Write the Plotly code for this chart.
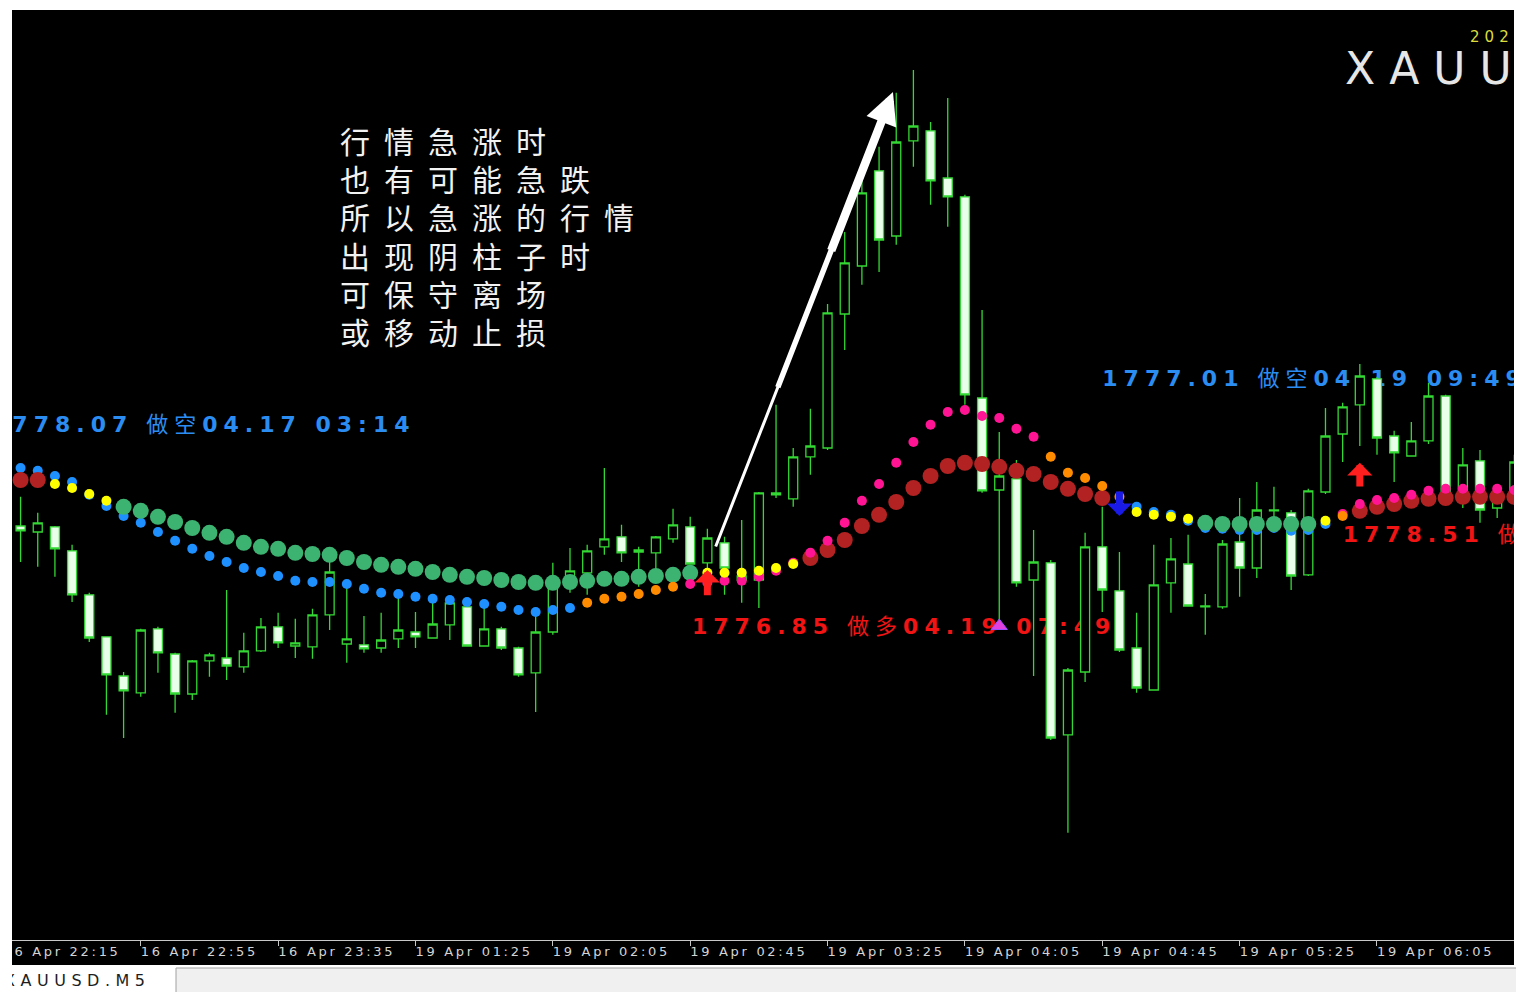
import plotly.graph_objects as go

# ---------------- data ----------------
bar_index = list(range(88))

opens = [1777.85, 1777.70, 1777.83, 1777.23, 1776.13, 1775.08, 1774.10, 1773.68, 1775.28, 1774.65,
         1773.65, 1774.48, 1774.55, 1774.33, 1774.73, 1775.33, 1774.85, 1774.83, 1775.63, 1774.90,
         1774.88, 1774.80, 1775.03, 1775.20, 1775.05, 1775.38, 1775.83, 1774.85, 1775.28, 1774.80,
         1774.18, 1775.20, 1776.53, 1776.68, 1777.33, 1777.58, 1777.20, 1777.18, 1777.53, 1777.83,
         1776.93, 1777.43, 1776.50, 1776.50, 1778.63, 1778.53, 1779.58, 1779.80, 1783.15, 1784.35,
         1786.73, 1785.10, 1787.48, 1787.73, 1786.55, 1786.08, 1781.05, 1778.75, 1779.03, 1776.50,
         1776.93, 1772.63, 1774.20, 1777.33, 1776.23, 1774.80, 1773.75, 1776.43, 1776.90, 1775.83,
         1775.83, 1777.45, 1776.80, 1778.23, 1778.18, 1776.63, 1778.70, 1780.15, 1780.88, 1781.53,
         1780.10, 1779.60, 1779.98, 1781.10, 1778.65, 1779.48, 1778.30, 1778.50]
highs = [1778.58, 1778.18, 1777.85, 1777.38, 1776.18, 1775.08, 1774.20, 1775.28, 1775.33, 1774.68,
         1774.50, 1774.68, 1776.25, 1775.18, 1775.55, 1775.68, 1775.53, 1775.78, 1776.95, 1776.30,
         1775.60, 1775.68, 1776.05, 1775.70, 1776.00, 1776.05, 1775.93, 1775.93, 1775.33, 1774.83,
         1775.63, 1776.93, 1777.30, 1777.38, 1779.30, 1777.88, 1777.33, 1777.60, 1778.28, 1778.08,
         1777.78, 1777.58, 1778.00, 1778.70, 1780.88, 1779.80, 1780.78, 1783.40, 1785.20, 1786.68,
         1787.33, 1788.68, 1789.25, 1787.95, 1788.55, 1786.13, 1783.25, 1780.20, 1779.50, 1777.75,
         1777.00, 1774.30, 1777.68, 1778.33, 1777.20, 1775.68, 1777.38, 1777.55, 1777.63, 1776.15,
         1777.50, 1778.55, 1778.95, 1778.83, 1778.25, 1778.78, 1780.80, 1780.93, 1781.90, 1781.58,
         1780.23, 1780.45, 1781.43, 1781.13, 1779.80, 1779.75, 1778.73, 1779.63]
lows = [1776.95, 1776.83, 1776.58, 1775.95, 1774.95, 1773.13, 1772.55, 1773.58, 1774.18, 1773.18,
        1773.50, 1774.08, 1774.00, 1774.18, 1774.70, 1774.80, 1774.55, 1774.53, 1775.25, 1774.43,
        1774.68, 1774.68, 1774.80, 1774.80, 1775.03, 1775.00, 1774.83, 1774.83, 1774.75, 1774.08,
        1773.20, 1775.13, 1776.18, 1776.13, 1777.13, 1776.95, 1776.33, 1776.50, 1777.43, 1776.88,
        1776.80, 1776.13, 1775.93, 1775.80, 1778.55, 1778.33, 1779.13, 1779.75, 1782.25, 1783.88,
        1784.20, 1784.88, 1786.83, 1785.88, 1785.33, 1780.88, 1778.68, 1775.50, 1776.33, 1774.10,
        1772.50, 1770.18, 1773.95, 1775.70, 1774.70, 1773.68, 1773.73, 1775.68, 1775.83, 1775.13,
        1775.78, 1776.08, 1776.55, 1777.80, 1776.25, 1776.60, 1778.65, 1779.45, 1779.85, 1779.63,
        1778.95, 1779.58, 1779.90, 1778.60, 1778.30, 1777.93, 1778.05, 1778.38]
closes = [1777.73, 1777.93, 1777.28, 1776.13, 1775.05, 1774.13, 1773.73, 1775.25, 1774.68, 1773.65,
          1774.48, 1774.63, 1774.35, 1774.73, 1775.33, 1774.93, 1774.93, 1775.63, 1776.70, 1775.03,
          1774.78, 1775.00, 1775.25, 1775.08, 1775.40, 1775.93, 1774.85, 1775.28, 1774.80, 1774.13,
          1775.20, 1776.33, 1776.73, 1777.23, 1777.53, 1777.18, 1777.25, 1777.58, 1777.88, 1776.90,
          1777.55, 1776.80, 1776.60, 1778.68, 1778.68, 1779.58, 1779.85, 1783.18, 1784.43, 1786.18,
          1785.00, 1787.45, 1787.85, 1786.48, 1786.08, 1781.13, 1778.73, 1779.10, 1776.43, 1776.95,
          1772.55, 1774.25, 1777.33, 1776.25, 1774.75, 1773.80, 1776.38, 1777.03, 1775.85, 1775.85,
          1777.40, 1776.80, 1778.25, 1778.25, 1776.60, 1778.73, 1780.10, 1780.83, 1781.60, 1780.05,
          1779.68, 1779.98, 1781.10, 1778.65, 1779.38, 1778.25, 1778.65, 1779.45]

# trend line A (large dots) and its colour state per bar
dots_a = [1779.00, 1779.00, 1778.90, 1778.80, 1778.65, 1778.48, 1778.33, 1778.23, 1778.08, 1777.95,
          1777.80, 1777.68, 1777.58, 1777.43, 1777.33, 1777.28, 1777.18, 1777.15, 1777.13, 1777.05,
          1776.95, 1776.88, 1776.83, 1776.78, 1776.70, 1776.63, 1776.58, 1776.55, 1776.50, 1776.45,
          1776.43, 1776.43, 1776.45, 1776.48, 1776.53, 1776.53, 1776.58, 1776.60, 1776.63, 1776.68,
          1776.68, 1776.68, 1776.68, 1776.73, 1776.80, 1776.90, 1777.05, 1777.25, 1777.50, 1777.85,
          1778.13, 1778.45, 1778.80, 1779.10, 1779.35, 1779.43, 1779.40, 1779.33, 1779.23, 1779.15,
          1778.95, 1778.78, 1778.65, 1778.55, 1778.33, 1778.20, 1778.13, 1778.08, 1778.03, 1777.93,
          1777.90, 1777.90, 1777.90, 1777.90, 1777.90, 1777.90, 1777.98, 1778.10, 1778.23, 1778.33,
          1778.40, 1778.48, 1778.53, 1778.55, 1778.58, 1778.58, 1778.58, 1778.58]
dots_a_state = list("RRYYYYGGGG" "GGGGGGGGGG" "GGGGGGGGGG" "GGGGGGGGGG" "YYYYYYRRRR"
                    "RRRRRRRRRR" "RRRRYYYYYG" "GGGGGGYORR" "RRRRRRRR")

# trend line B (small dots) and its colour state per bar
dots_b = [1779.30, 1779.23, 1779.10, 1778.95, 1778.63, 1778.35, 1778.10, 1777.93, 1777.70, 1777.48,
          1777.28, 1777.10, 1776.95, 1776.80, 1776.70, 1776.60, 1776.48, 1776.45, 1776.45, 1776.40,
          1776.28, 1776.18, 1776.15, 1776.08, 1776.03, 1776.00, 1775.95, 1775.90, 1775.83, 1775.75,
          1775.70, 1775.75, 1775.80, 1775.93, 1776.03, 1776.08, 1776.15, 1776.25, 1776.33, 1776.40,
          1776.43, 1776.48, 1776.48, 1776.58, 1776.73, 1776.93, 1777.18, 1777.48, 1777.93, 1778.48,
          1778.90, 1779.43, 1779.95, 1780.38, 1780.70, 1780.75, 1780.60, 1780.55, 1780.28, 1780.08,
          1779.58, 1779.18, 1779.05, 1778.85, 1778.58, 1778.33, 1778.20, 1778.13, 1777.98, 1777.80,
          1777.78, 1777.75, 1777.75, 1777.80, 1777.73, 1777.75, 1777.90, 1778.15, 1778.40, 1778.50,
          1778.55, 1778.63, 1778.73, 1778.78, 1778.78, 1778.78, 1778.78, 1778.75]
dots_b_state = list("BBBBBBBBBB" "BBBBBBBBBB" "BBBBBBBBBB" "BBBOOOOOOP" "PPPPPPPPPP"
                    "PPPPPPPPPP" "OOOOOBBBBB" "BBBBBBBPPP" "PPPPPPPP")

tick_index = [-1, 7, 15, 23, 31, 39, 47, 55, 63, 71, 79, 87]
tick_labels = ["16 Apr 22:15", "16 Apr 22:55", "16 Apr 23:35", "19 Apr 01:25", "19 Apr 02:05",
               "19 Apr 02:45", "19 Apr 03:25", "19 Apr 04:05", "19 Apr 04:45", "19 Apr 05:25",
               "19 Apr 06:05", "19 Apr 06:45"]

signal_index = [40, 78, 64]
signal_tip = [1776.75, 1779.43, 1778.10]
signal_base = [1776.08, 1778.80, 1778.75]
signal_color = ["#ff1f1f", "#ff1f1f", "#1a1ae6"]

trigger_index = [57]
trigger_price = [1775.35]

label_index = [-1.72, 63.0, 39.1, 77.0]
label_price = [1780.35, 1781.48, 1775.30, 1777.58]
label_value = ["1778.07", "1777.01", "1776.85", "1778.51"]
label_side = ["做空", "做空", "做多", "做多"]
label_time = ["04.17 03:14", "04.19 09:49", "04.19 07:49", "04.19 10:19"]
label_color = ["#2b8df2", "#2b8df2", "#f01414", "#f01414"]

note_lines = ["行情急涨时", "也有可能急跌", "所以急涨的行情", "出现阴柱子时", "可保守离场", "或移动止损"]
note_index = 18.49
note_line_price = [1787.50, 1786.55, 1785.60, 1784.63, 1783.68, 1782.73]

# arrow drawn by hand on the screenshot: (index, price) of tail, intermediate points and tip
hand_arrow_tail = (40.45, 1777.30)
hand_arrow_mid1 = (44.07, 1781.28)
hand_arrow_mid2 = (47.18, 1784.70)
hand_arrow_tip = (50.81, 1788.70)

symbol_title = "XAUUSD"
symbol_title_pos = (77.14, 1789.18)
clock_text = "2021.04.19 06:48"
clock_pos = (84.42, 1790.05)
tab_label = "XAUUSD.M5"
tab_label_pos = -0.96

# ---------------- styles ----------------
DOT_COLORS = {"G": "#3cb371", "R": "#b22222", "B": "#1e90ff", "P": "#ff1493", "O": "#ff8c00", "Y": "#ffff00"}
DOT_SIZES = {"G": 16, "R": 16, "B": 10, "P": 10, "O": 10, "Y": 10}
DOT_ORDER = ["B", "G", "R", "P", "O", "Y"]
CANDLE_GREEN = "#34d834"
Y_RANGE = [1767.50, 1790.75]
X_RANGE = [-0.5, 86.98]


def spaced(s, px):
    return "<span style='letter-spacing:%spx'>%s</span>" % (px, s)


fig = go.Figure()

# signal labels (base layer, under candles)
label_texts = [spaced("<b>%s</b> %s<b>%s</b>" % (v, s, t), 6)
               for v, s, t in zip(label_value, label_side, label_time)]
fig.add_trace(go.Scatter(
    x=label_index, y=label_price, text=label_texts, mode="text",
    textposition="middle right", cliponaxis=True, hoverinfo="skip",
    textfont=dict(family="DejaVu Sans, Noto Sans CJK SC", size=22, color=label_color),
    xaxis="x", yaxis="y"))

fig.add_trace(go.Scatter(
    x=[symbol_title_pos[0]], y=[symbol_title_pos[1]], text=[spaced(symbol_title, 14)],
    mode="text", textposition="middle right", cliponaxis=True, hoverinfo="skip",
    textfont=dict(family="DejaVu Sans", size=44, color="#e6e6e6"),
    xaxis="x", yaxis="y"))
fig.add_trace(go.Scatter(
    x=[clock_pos[0]], y=[clock_pos[1]], text=[spaced(clock_text, 5)],
    mode="text", textposition="middle right", cliponaxis=True, hoverinfo="skip",
    textfont=dict(family="DejaVu Sans", size=15, color="#dcdc3c"),
    xaxis="x", yaxis="y"))

# candles (overlay layer)
fig.add_trace(go.Candlestick(
    x=bar_index, open=opens, high=highs, low=lows, close=closes,
    increasing=dict(line=dict(color=CANDLE_GREEN, width=1.3), fillcolor="black"),
    decreasing=dict(line=dict(color=CANDLE_GREEN, width=1.3), fillcolor="#eaffea"),
    whiskerwidth=0, hoverinfo="skip", xaxis="x", yaxis="y2"))

# indicator dots
for code in DOT_ORDER:
    xs, ys = [], []
    for i, (va, sa, vb, sb) in enumerate(zip(dots_a, dots_a_state, dots_b, dots_b_state)):
        if sa == code:
            xs.append(bar_index[i]); ys.append(va)
        if sb == code:
            xs.append(bar_index[i]); ys.append(vb)
    fig.add_trace(go.Scatter(
        x=xs, y=ys, mode="markers", hoverinfo="skip", cliponaxis=True,
        marker=dict(color=DOT_COLORS[code], size=DOT_SIZES[code], line=dict(width=0)),
        xaxis="x", yaxis="y2"))

fig.add_trace(go.Scatter(
    x=trigger_index, y=trigger_price, mode="markers", hoverinfo="skip",
    marker=dict(symbol="triangle-up", size=14, color="#e040e0", line=dict(color="#9a4dff", width=1)),
    xaxis="x", yaxis="y2"))

# time axis labels
fig.add_trace(go.Scatter(
    x=tick_index, y=[0.5] * len(tick_index), text=[spaced(t, 2.7) for t in tick_labels],
    mode="text", textposition="middle right", cliponaxis=True, hoverinfo="skip",
    textfont=dict(family="DejaVu Sans", size=13, color="#d4d4d4"),
    xaxis="x", yaxis="y3"))

# bottom tab label
fig.add_trace(go.Scatter(
    x=[tab_label_pos], y=[0.38], text=[spaced(tab_label, 5.5)],
    mode="text", textposition="middle right", cliponaxis=True, hoverinfo="skip",
    textfont=dict(family="DejaVu Sans", size=16, color="#1e1e1e"),
    xaxis="x", yaxis="y4"))

annotations = []
for idx, tip, base, col in zip(signal_index, signal_tip, signal_base, signal_color):
    annotations.append(dict(x=idx, y=tip, ax=idx, ay=base, xref="x", yref="y", axref="x", ayref="y",
                            text="", showarrow=True, arrowhead=1, arrowwidth=7, arrowsize=0.6,
                            arrowcolor=col))

# hand-drawn white arrow (tapered using overlapping strokes)
for start, w, head, size, stand in [(hand_arrow_tail, 3, 0, 1, 24),
                                     (hand_arrow_mid1, 5.5, 0, 1, 24),
                                     (hand_arrow_mid2, 8.5, 2, 0.75, 0)]:
    annotations.append(dict(x=hand_arrow_tip[0], y=hand_arrow_tip[1], ax=start[0], ay=start[1],
                            xref="x", yref="y", axref="x", ayref="y", text="", showarrow=True,
                            arrowhead=head, arrowwidth=w, arrowsize=size, standoff=stand,
                            arrowcolor="white"))

for line, price in zip(note_lines, note_line_price):
    annotations.append(dict(
        x=note_index, y=price, xref="x", yref="y", xanchor="left", yanchor="middle",
        align="left", showarrow=False, text=spaced(line, 14),
        font=dict(family="Noto Sans CJK SC", size=30, color="#f2f2f2")))

W, H = 1516, 992
L, R, T, B = 12, 2, 10, 0
pw, ph = W - L - R, H - T - B


def px_x(p):
    return (p - L) / pw


def px_y(p):
    return (H - B - p) / ph


shapes = [
    dict(type="rect", xref="paper", yref="paper", x0=px_x(0), x1=px_x(W), y0=px_y(H), y1=px_y(965),
         fillcolor="white", line=dict(width=0), layer="below"),
    dict(type="rect", xref="paper", yref="paper", x0=px_x(176), x1=px_x(W + 2), y0=px_y(H + 2), y1=px_y(968),
         fillcolor="#f0f0f0", line=dict(color="#a0a0a0", width=1), layer="below"),
]

fig.update_layout(
    width=W, height=H, margin=dict(l=L, r=R, t=T, b=B),
    paper_bgcolor="white", plot_bgcolor="black", showlegend=False, hovermode=False,
    boxgap=0.25,
    annotations=annotations, shapes=shapes,
    xaxis=dict(range=X_RANGE, anchor="y", showline=True, linecolor="#c8c8c8", linewidth=1,
               ticks="outside", ticklen=5, tickcolor="#c8c8c8", tickvals=tick_index,
               showticklabels=False, showgrid=False, zeroline=False,
               rangeslider=dict(visible=False), fixedrange=True),
    yaxis=dict(domain=[px_y(940), 1], range=Y_RANGE, visible=False, fixedrange=True),
    yaxis2=dict(overlaying="y", range=Y_RANGE, visible=False, fixedrange=True),
    yaxis3=dict(domain=[px_y(965), px_y(940)], range=[0, 1], visible=False, fixedrange=True),
    yaxis4=dict(domain=[0, px_y(965)], range=[0, 1], visible=False, fixedrange=True),
)

fig.write_html("out.html", config={"displayModeBar": False},
               post_script="document.body.style.margin='0';document.body.style.overflow='hidden';")
